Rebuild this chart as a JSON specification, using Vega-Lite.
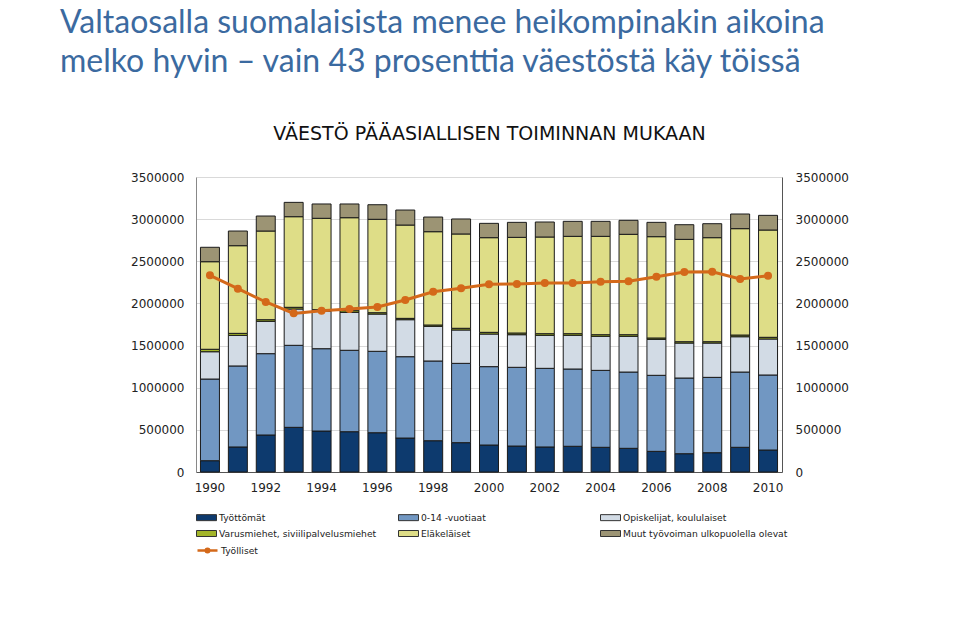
{
  "$schema": "https://vega.github.io/schema/vega-lite/v6.json",
  "width": 586,
  "height": 295,
  "autosize": {"type": "none"},
  "padding": {"left": 196, "top": 177, "right": 177, "bottom": 162},
  "background": "white",
  "config": {"view": {"stroke": null}, "font": "DejaVu Sans"},
  "title": {
    "text": ["Valtaosalla suomalaisista menee heikompinakin aikoina", "melko hyvin – vain 43 prosenttia väestöstä käy töissä"],
    "anchor": "start",
    "frame": "group",
    "font": "Lato",
    "fontSize": 32,
    "fontWeight": "normal",
    "color": "#3b6aa0",
    "lineHeight": 39,
    "dx": -136,
    "offset": 45
  },
  "datasets": {
    "bars": [
      {"year": 1990, "series": "Työttömät", "value": 134000},
      {"year": 1990, "series": "0-14 -vuotiaat", "value": 969000},
      {"year": 1990, "series": "Opiskelijat, koululaiset", "value": 324000},
      {"year": 1990, "series": "Varusmiehet, siviilipalvelusmiehet", "value": 29000},
      {"year": 1990, "series": "Eläkeläiset", "value": 1039000},
      {"year": 1990, "series": "Muut työvoiman ulkopuolella olevat", "value": 171000},
      {"year": 1991, "series": "Työttömät", "value": 297000},
      {"year": 1991, "series": "0-14 -vuotiaat", "value": 961000},
      {"year": 1991, "series": "Opiskelijat, koululaiset", "value": 363000},
      {"year": 1991, "series": "Varusmiehet, siviilipalvelusmiehet", "value": 24000},
      {"year": 1991, "series": "Eläkeläiset", "value": 1040000},
      {"year": 1991, "series": "Muut työvoiman ulkopuolella olevat", "value": 174000},
      {"year": 1992, "series": "Työttömät", "value": 439000},
      {"year": 1992, "series": "0-14 -vuotiaat", "value": 965000},
      {"year": 1992, "series": "Opiskelijat, koululaiset", "value": 384000},
      {"year": 1992, "series": "Varusmiehet, siviilipalvelusmiehet", "value": 19000},
      {"year": 1992, "series": "Eläkeläiset", "value": 1052000},
      {"year": 1992, "series": "Muut työvoiman ulkopuolella olevat", "value": 178000},
      {"year": 1993, "series": "Työttömät", "value": 530000},
      {"year": 1993, "series": "0-14 -vuotiaat", "value": 973000},
      {"year": 1993, "series": "Opiskelijat, koululaiset", "value": 431000},
      {"year": 1993, "series": "Varusmiehet, siviilipalvelusmiehet", "value": 20000},
      {"year": 1993, "series": "Eläkeläiset", "value": 1075000},
      {"year": 1993, "series": "Muut työvoiman ulkopuolella olevat", "value": 170000},
      {"year": 1994, "series": "Työttömät", "value": 486000},
      {"year": 1994, "series": "0-14 -vuotiaat", "value": 977000},
      {"year": 1994, "series": "Opiskelijat, koululaiset", "value": 447000},
      {"year": 1994, "series": "Varusmiehet, siviilipalvelusmiehet", "value": 16000},
      {"year": 1994, "series": "Eläkeläiset", "value": 1084000},
      {"year": 1994, "series": "Muut työvoiman ulkopuolella olevat", "value": 170000},
      {"year": 1995, "series": "Työttömät", "value": 478000},
      {"year": 1995, "series": "0-14 -vuotiaat", "value": 966000},
      {"year": 1995, "series": "Opiskelijat, koululaiset", "value": 450000},
      {"year": 1995, "series": "Varusmiehet, siviilipalvelusmiehet", "value": 20000},
      {"year": 1995, "series": "Eläkeläiset", "value": 1103000},
      {"year": 1995, "series": "Muut työvoiman ulkopuolella olevat", "value": 163000},
      {"year": 1996, "series": "Työttömät", "value": 466000},
      {"year": 1996, "series": "0-14 -vuotiaat", "value": 966000},
      {"year": 1996, "series": "Opiskelijat, koululaiset", "value": 442000},
      {"year": 1996, "series": "Varusmiehet, siviilipalvelusmiehet", "value": 16000},
      {"year": 1996, "series": "Eläkeläiset", "value": 1108000},
      {"year": 1996, "series": "Muut työvoiman ulkopuolella olevat", "value": 173000},
      {"year": 1997, "series": "Työttömät", "value": 403000},
      {"year": 1997, "series": "0-14 -vuotiaat", "value": 965000},
      {"year": 1997, "series": "Opiskelijat, koululaiset", "value": 439000},
      {"year": 1997, "series": "Varusmiehet, siviilipalvelusmiehet", "value": 16000},
      {"year": 1997, "series": "Eläkeläiset", "value": 1107000},
      {"year": 1997, "series": "Muut työvoiman ulkopuolella olevat", "value": 178000},
      {"year": 1998, "series": "Työttömät", "value": 371000},
      {"year": 1998, "series": "0-14 -vuotiaat", "value": 946000},
      {"year": 1998, "series": "Opiskelijat, koululaiset", "value": 411000},
      {"year": 1998, "series": "Varusmiehet, siviilipalvelusmiehet", "value": 16000},
      {"year": 1998, "series": "Eläkeläiset", "value": 1107000},
      {"year": 1998, "series": "Muut työvoiman ulkopuolella olevat", "value": 174000},
      {"year": 1999, "series": "Työttömät", "value": 348000},
      {"year": 1999, "series": "0-14 -vuotiaat", "value": 941000},
      {"year": 1999, "series": "Opiskelijat, koululaiset", "value": 396000},
      {"year": 1999, "series": "Varusmiehet, siviilipalvelusmiehet", "value": 20000},
      {"year": 1999, "series": "Eläkeläiset", "value": 1119000},
      {"year": 1999, "series": "Muut työvoiman ulkopuolella olevat", "value": 178000},
      {"year": 2000, "series": "Työttömät", "value": 320000},
      {"year": 2000, "series": "0-14 -vuotiaat", "value": 930000},
      {"year": 2000, "series": "Opiskelijat, koululaiset", "value": 387000},
      {"year": 2000, "series": "Varusmiehet, siviilipalvelusmiehet", "value": 20000},
      {"year": 2000, "series": "Eläkeläiset", "value": 1123000},
      {"year": 2000, "series": "Muut työvoiman ulkopuolella olevat", "value": 170000},
      {"year": 2001, "series": "Työttömät", "value": 308000},
      {"year": 2001, "series": "0-14 -vuotiaat", "value": 934000},
      {"year": 2001, "series": "Opiskelijat, koululaiset", "value": 387000},
      {"year": 2001, "series": "Varusmiehet, siviilipalvelusmiehet", "value": 20000},
      {"year": 2001, "series": "Eläkeläiset", "value": 1135000},
      {"year": 2001, "series": "Muut työvoiman ulkopuolella olevat", "value": 178000},
      {"year": 2002, "series": "Työttömät", "value": 297000},
      {"year": 2002, "series": "0-14 -vuotiaat", "value": 933000},
      {"year": 2002, "series": "Opiskelijat, koululaiset", "value": 392000},
      {"year": 2002, "series": "Varusmiehet, siviilipalvelusmiehet", "value": 19000},
      {"year": 2002, "series": "Eläkeläiset", "value": 1147000},
      {"year": 2002, "series": "Muut työvoiman ulkopuolella olevat", "value": 178000},
      {"year": 2003, "series": "Työttömät", "value": 305000},
      {"year": 2003, "series": "0-14 -vuotiaat", "value": 917000},
      {"year": 2003, "series": "Opiskelijat, koululaiset", "value": 400000},
      {"year": 2003, "series": "Varusmiehet, siviilipalvelusmiehet", "value": 19000},
      {"year": 2003, "series": "Eläkeläiset", "value": 1155000},
      {"year": 2003, "series": "Muut työvoiman ulkopuolella olevat", "value": 178000},
      {"year": 2004, "series": "Työttömät", "value": 293000},
      {"year": 2004, "series": "0-14 -vuotiaat", "value": 913000},
      {"year": 2004, "series": "Opiskelijat, koululaiset", "value": 404000},
      {"year": 2004, "series": "Varusmiehet, siviilipalvelusmiehet", "value": 19000},
      {"year": 2004, "series": "Eläkeläiset", "value": 1167000},
      {"year": 2004, "series": "Muut työvoiman ulkopuolella olevat", "value": 178000},
      {"year": 2005, "series": "Työttömät", "value": 281000},
      {"year": 2005, "series": "0-14 -vuotiaat", "value": 905000},
      {"year": 2005, "series": "Opiskelijat, koululaiset", "value": 424000},
      {"year": 2005, "series": "Varusmiehet, siviilipalvelusmiehet", "value": 19000},
      {"year": 2005, "series": "Eläkeläiset", "value": 1191000},
      {"year": 2005, "series": "Muut työvoiman ulkopuolella olevat", "value": 166000},
      {"year": 2006, "series": "Työttömät", "value": 245000},
      {"year": 2006, "series": "0-14 -vuotiaat", "value": 902000},
      {"year": 2006, "series": "Opiskelijat, koululaiset", "value": 427000},
      {"year": 2006, "series": "Varusmiehet, siviilipalvelusmiehet", "value": 16000},
      {"year": 2006, "series": "Eläkeläiset", "value": 1202000},
      {"year": 2006, "series": "Muut työvoiman ulkopuolella olevat", "value": 170000},
      {"year": 2007, "series": "Työttömät", "value": 217000},
      {"year": 2007, "series": "0-14 -vuotiaat", "value": 898000},
      {"year": 2007, "series": "Opiskelijat, koululaiset", "value": 415000},
      {"year": 2007, "series": "Varusmiehet, siviilipalvelusmiehet", "value": 16000},
      {"year": 2007, "series": "Eläkeläiset", "value": 1214000},
      {"year": 2007, "series": "Muut työvoiman ulkopuolella olevat", "value": 174000},
      {"year": 2008, "series": "Työttömät", "value": 229000},
      {"year": 2008, "series": "0-14 -vuotiaat", "value": 894000},
      {"year": 2008, "series": "Opiskelijat, koululaiset", "value": 407000},
      {"year": 2008, "series": "Varusmiehet, siviilipalvelusmiehet", "value": 16000},
      {"year": 2008, "series": "Eläkeläiset", "value": 1234000},
      {"year": 2008, "series": "Muut työvoiman ulkopuolella olevat", "value": 166000},
      {"year": 2009, "series": "Työttömät", "value": 293000},
      {"year": 2009, "series": "0-14 -vuotiaat", "value": 893000},
      {"year": 2009, "series": "Opiskelijat, koululaiset", "value": 419000},
      {"year": 2009, "series": "Varusmiehet, siviilipalvelusmiehet", "value": 20000},
      {"year": 2009, "series": "Eläkeläiset", "value": 1262000},
      {"year": 2009, "series": "Muut työvoiman ulkopuolella olevat", "value": 174000},
      {"year": 2010, "series": "Työttömät", "value": 261000},
      {"year": 2010, "series": "0-14 -vuotiaat", "value": 890000},
      {"year": 2010, "series": "Opiskelijat, koululaiset", "value": 427000},
      {"year": 2010, "series": "Varusmiehet, siviilipalvelusmiehet", "value": 20000},
      {"year": 2010, "series": "Eläkeläiset", "value": 1273000},
      {"year": 2010, "series": "Muut työvoiman ulkopuolella olevat", "value": 174000}
    ],
    "employed": [
      {"year": 1990, "series": "Työlliset", "value": 2333000},
      {"year": 1991, "series": "Työlliset", "value": 2175000},
      {"year": 1992, "series": "Työlliset", "value": 2017000},
      {"year": 1993, "series": "Työlliset", "value": 1882000},
      {"year": 1994, "series": "Työlliset", "value": 1914000},
      {"year": 1995, "series": "Työlliset", "value": 1934000},
      {"year": 1996, "series": "Työlliset", "value": 1958000},
      {"year": 1997, "series": "Työlliset", "value": 2041000},
      {"year": 1998, "series": "Työlliset", "value": 2139000},
      {"year": 1999, "series": "Työlliset", "value": 2179000},
      {"year": 2000, "series": "Työlliset", "value": 2227000},
      {"year": 2001, "series": "Työlliset", "value": 2230000},
      {"year": 2002, "series": "Työlliset", "value": 2242000},
      {"year": 2003, "series": "Työlliset", "value": 2242000},
      {"year": 2004, "series": "Työlliset", "value": 2258000},
      {"year": 2005, "series": "Työlliset", "value": 2262000},
      {"year": 2006, "series": "Työlliset", "value": 2317000},
      {"year": 2007, "series": "Työlliset", "value": 2373000},
      {"year": 2008, "series": "Työlliset", "value": 2376000},
      {"year": 2009, "series": "Työlliset", "value": 2290000},
      {"year": 2010, "series": "Työlliset", "value": 2329000}
    ]
  },
  "layer": [
    {
      "data": {"name": "bars"},
      "transform": [
        {"calculate": "indexof(['Työttömät', '0-14 -vuotiaat', 'Opiskelijat, koululaiset', 'Varusmiehet, siviilipalvelusmiehet', 'Eläkeläiset', 'Muut työvoiman ulkopuolella olevat'], datum.series)", "as": "stackOrder"}
      ],
      "mark": {"type": "bar", "stroke": "#1a1a1a", "strokeWidth": 1},
      "encoding": {
        "x": {
          "field": "year",
          "type": "ordinal",
          "scale": {"paddingInner": 0.32, "paddingOuter": 0.16},
          "axis": {
            "orient": "bottom",
            "title": null,
            "labelAngle": 0,
            "labelExpr": "datum.value % 2 == 0 ? datum.label : ''",
            "ticks": false,
            "domainColor": "#555",
            "labelFont": "DejaVu Sans",
            "labelFontSize": 12,
            "labelColor": "#222",
            "labelPadding": 10
          }
        },
        "y": {
          "field": "value",
          "type": "quantitative",
          "stack": "zero",
          "scale": {"domain": [0, 3500000], "nice": false},
          "axis": {
            "orient": "left",
            "title": null,
            "values": [0, 500000, 1000000, 1500000, 2000000, 2500000, 3000000, 3500000],
            "format": "d",
            "grid": true,
            "gridColor": "#d9d9d9",
            "ticks": false,
            "domainColor": "#888",
            "labelFont": "DejaVu Sans",
            "labelFontSize": 12,
            "labelColor": "#222",
            "labelPadding": 12
          }
        },
        "order": {"field": "stackOrder", "type": "quantitative", "sort": "ascending"},
        "color": {
          "field": "series",
          "type": "nominal",
          "sort": ["Työttömät", "0-14 -vuotiaat", "Opiskelijat, koululaiset", "Varusmiehet, siviilipalvelusmiehet", "Eläkeläiset", "Muut työvoiman ulkopuolella olevat"],
          "scale": {
            "domain": ["Työttömät", "0-14 -vuotiaat", "Opiskelijat, koululaiset", "Varusmiehet, siviilipalvelusmiehet", "Eläkeläiset", "Muut työvoiman ulkopuolella olevat"],
            "range": ["#0d3a6e", "#7197c2", "#d2dbe5", "#a3b52a", "#dedd87", "#9c9474"]
          },
          "legend": {
            "orient": "none",
            "legendX": 0,
            "legendY": 330,
            "direction": "horizontal",
            "columns": 3,
            "title": null,
            "gridAlign": "all",
            "columnPadding": 12,
            "rowPadding": 0,
            "labelFont": "DejaVu Sans",
            "labelFontSize": 9.2,
            "labelColor": "#222",
            "labelOffset": 2,
            "labelLimit": 300,
            "symbolSize": 400,
            "symbolStrokeWidth": 1,
            "symbolStrokeColor": "#333",
            "symbolType": "M-1,-0.3H1V0.3H-1Z"
          }
        }
      }
    },
    {
      "data": {"name": "employed"},
      "mark": {"type": "line", "strokeWidth": 3, "point": {"filled": true, "size": 36, "fill": "#d4691a", "color": "#d4691a"}},
      "encoding": {
        "x": {
          "field": "year",
          "type": "ordinal",
          "axis": {
            "orient": "top",
            "title": "VÄESTÖ PÄÄASIALLISEN TOIMINNAN MUKAAN",
            "labels": false,
            "ticks": false,
            "domain": false,
            "titleFont": "DejaVu Sans",
            "titleFontSize": 19,
            "titleFontWeight": "normal",
            "titleColor": "#111",
            "titlePadding": 34
          }
        },
        "y": {
          "field": "value",
          "type": "quantitative",
          "scale": {"domain": [0, 3500000], "nice": false},
          "axis": {
            "orient": "right",
            "title": null,
            "values": [0, 500000, 1000000, 1500000, 2000000, 2500000, 3000000, 3500000],
            "format": "d",
            "grid": false,
            "ticks": false,
            "domainColor": "#555",
            "labelFont": "DejaVu Sans",
            "labelFontSize": 12,
            "labelColor": "#222",
            "labelPadding": 13
          }
        },
        "stroke": {
          "field": "series",
          "type": "nominal",
          "scale": {"domain": ["Työlliset"], "range": ["#d4691a"]},
          "legend": {
            "orient": "none",
            "legendX": 0,
            "legendY": 362,
            "title": null,
            "labelFont": "DejaVu Sans",
            "labelFontSize": 9.2,
            "labelColor": "#222",
            "labelOffset": 2,
            "symbolSize": 400,
            "symbolStrokeWidth": 2.5,
            "symbolType": "M-1,0H1M-0.18,0A0.18,0.18 0 1,0 0.18,0A0.18,0.18 0 1,0 -0.18,0"
          }
        }
      }
    }
  ]
}
